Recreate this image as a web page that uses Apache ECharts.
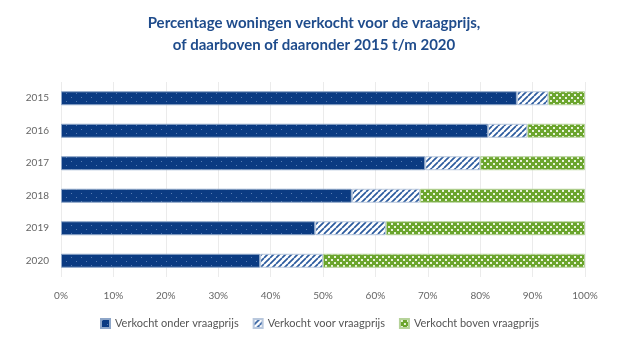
<!DOCTYPE html>
<html>
<head>
<meta charset="utf-8">
<script src="https://cdn.jsdelivr.net/npm/echarts@6/dist/echarts.min.js"></script>
<style>
  html, body { margin: 0; padding: 0; background: #fff; }
  #chart { width: 628px; height: 341px; }
</style>
</head>
<body>
<div id="chart"></div>
<script>
// Share of homes sold below, at and above asking price, per year
const years = ['2015', '2016', '2017', '2018', '2019', '2020'];
const onderVraagprijs = [87, 81.5, 69.5, 55.5, 48.5, 38];
const voorVraagprijs = [6, 7.5, 10.5, 13, 13.5, 12];
const bovenVraagprijs = [7, 11, 20, 31.5, 38, 50];
const xTicks = [0, 10, 20, 30, 40, 50, 60, 70, 80, 90, 100];

const NAVY = '#0b3b82';
const GREEN = '#6ba52d';

function makeTile(w, h, draw) {
  const c = document.createElement('canvas');
  c.width = w; c.height = h;
  draw(c.getContext('2d'));
  return c;
}

// dark blue with faint light specks
const navyTile = makeTile(10, 8, ctx => {
  ctx.fillStyle = NAVY; ctx.fillRect(0, 0, 10, 8);
  ctx.fillStyle = 'rgba(150,175,215,0.55)';
  ctx.fillRect(1, 1, 1, 1);
  ctx.fillRect(6, 5, 1, 1);
});

// white with diagonal blue stripes
const hatchTile = makeTile(6, 6, ctx => {
  ctx.fillStyle = '#ffffff'; ctx.fillRect(0, 0, 6, 6);
  ctx.strokeStyle = '#2c5b9e'; ctx.lineWidth = 1.7;
  ctx.beginPath();
  for (let k = -6; k <= 12; k += 6) {
    ctx.moveTo(k, 6); ctx.lineTo(k + 6, 0);
  }
  ctx.stroke();
});

// green with white square dots, staggered
const dotTile = makeTile(6, 6, ctx => {
  ctx.fillStyle = GREEN; ctx.fillRect(0, 0, 6, 6);
  ctx.fillStyle = '#e8f2dc';
  ctx.fillRect(1, 1, 2, 2);
  ctx.fillRect(4, 4, 2, 2);
});

const barFont = 'Lato, "Open Sans", sans-serif';

function seriesOf(name, data, tile, border) {
  return {
    name: name,
    type: 'bar',
    stack: 'total',
    data: data,
    barCategoryGap: '57%',
    itemStyle: {
      color: { image: tile, repeat: 'repeat' },
      borderColor: border,
      borderWidth: 1
    },
    emphasis: { disabled: true }
  };
}

const chart = echarts.init(document.getElementById('chart'), null, { renderer: 'canvas' });
chart.setOption({
  animation: false,
  backgroundColor: '#ffffff',
  title: {
    text: 'Percentage woningen verkocht voor de vraagprijs,\nof daarboven of daaronder 2015 t/m 2020',
    left: 'center',
    top: 7,
    textStyle: {
      fontFamily: barFont,
      fontSize: 15,
      fontWeight: 'bold',
      color: '#1f4c8c',
      lineHeight: 22
    }
  },
  legend: {
    left: 95,
    top: 313,
    itemWidth: 9,
    itemHeight: 9,
    itemGap: 14,
    icon: 'rect',
    textStyle: { fontFamily: barFont, fontSize: 11, color: '#555' },
    data: ['Verkocht onder vraagprijs', 'Verkocht voor vraagprijs', 'Verkocht boven vraagprijs']
  },
  grid: { left: 61, right: 43, top: 82, bottom: 64, containLabel: false },
  xAxis: {
    type: 'value',
    min: 0,
    max: 100,
    interval: 10,
    axisLine: { show: false },
    axisTick: { show: false },
    splitLine: { lineStyle: { color: '#ebebeb', width: 1 } },
    axisLabel: {
      margin: 14,
      fontFamily: barFont,
      fontSize: 10,
      color: '#666',
      formatter: v => (xTicks.includes(v) ? v + '%' : '')
    }
  },
  yAxis: {
    type: 'category',
    inverse: true,
    data: years,
    axisLine: { show: false },
    axisTick: { show: false },
    axisLabel: { margin: 12, fontFamily: barFont, fontSize: 10, color: '#666' }
  },
  series: [
    seriesOf('Verkocht onder vraagprijs', onderVraagprijs, navyTile, '#8ea6c8'),
    seriesOf('Verkocht voor vraagprijs', voorVraagprijs, hatchTile, '#b9c8dd'),
    seriesOf('Verkocht boven vraagprijs', bovenVraagprijs, dotTile, '#b6d39a')
  ]
});
</script>
</body>
</html>
